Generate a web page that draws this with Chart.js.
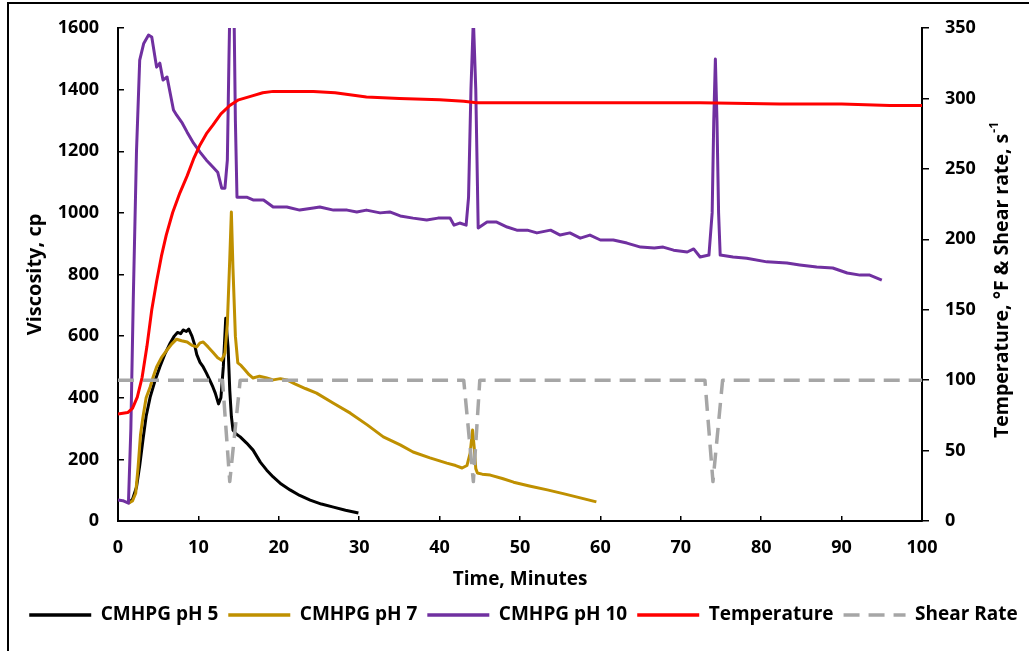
<!DOCTYPE html>
<html>
<head>
<meta charset="utf-8">
<script src="https://cdn.jsdelivr.net/npm/chart.js@4.4.1/dist/chart.umd.min.js"></script>
<style>
  html, body { margin: 0; padding: 0; background: #fff; }
  #marco { position: absolute; left: 7px; top: 2px; width: 1030px; height: 700px; border-left: 2px solid #000; border-top: 2px solid #000; }
  #graficoViscosidad { position: absolute; left: 0; top: 0; }
</style>
</head>
<body>
<div id="marco"></div>
<canvas id="graficoViscosidad" width="1029" height="651"></canvas>
<script>
// tiempos (min) y viscosidad (cp)
const tPh5 = [1.3, 1.8, 2.3, 2.7, 3.1, 3.5, 4.0, 4.6, 5.2, 5.8, 6.5, 7.0, 7.4, 7.8, 8.1, 8.5, 8.8, 9.2, 9.5, 9.8,
  10.2, 10.6, 11.0, 11.4, 11.8, 12.1, 12.5, 12.8, 13.1, 13.4, 13.7, 13.9, 14.1, 14.3, 14.7, 15.2, 16.0, 16.8, 17.7,
  18.5, 19.3, 20.3, 21.4, 22.6, 23.9, 25.3, 26.8, 28.3, 29.9];
const viscPh5 = [58, 70, 110, 180, 263, 340, 402, 455, 500, 540, 578, 600, 612, 608, 620, 615, 623, 600, 575, 540,
  515, 500, 480, 458, 435, 415, 380, 400, 500, 658, 560, 425, 340, 295, 282, 273, 253, 230, 191,
  165, 143, 120, 101, 83, 68, 55, 45, 35, 26];

const tPh7 = [1.3, 1.8, 2.2, 2.5, 2.8, 3.1, 3.5, 4.0, 4.4, 4.8, 5.4, 6.1, 6.7, 7.3, 7.9, 8.6, 9.2, 9.8, 10.2, 10.6,
  11.2, 11.8, 12.4, 12.9, 13.3, 13.6, 13.9, 14.1, 14.3, 14.6, 14.9, 15.3, 15.8, 16.3, 16.8, 17.6, 18.5, 19.3, 20.2,
  21.0, 22.0, 23.3, 24.7, 26.8, 28.9, 31.0, 33.0, 35.1, 36.7, 38.8, 40.9, 42.0, 42.8, 43.4, 43.8, 44.1, 44.3, 44.5,
  44.7, 45.3, 46.3, 47.8, 49.2, 51.3, 53.4, 55.5, 57.5, 59.5];
const viscPh7 = [58, 65, 90, 175, 280, 337, 400, 435, 470, 500, 530, 555, 575, 590, 585, 581, 570, 565, 578, 581,
  565, 548, 530, 522, 545, 640, 850, 1003, 820, 600, 513, 505, 490, 475, 464, 470, 464, 458, 462,
  458, 445, 430, 415, 382, 350, 312, 273, 247, 224, 205, 188, 180, 172, 180, 220, 295, 240, 170,
  156, 152, 149, 138, 126, 113, 101, 88, 75, 62];

const tPh10 = [0, 0.6, 1.3, 1.6, 1.9, 2.3, 2.7, 3.2, 3.8, 4.2,
  4.8, 5.2, 5.6, 6.1, 6.9, 7.3, 8.0, 8.6, 9.4, 10.2,
  11.0, 11.8, 12.4, 12.9, 13.3, 13.6, 13.8, 13.95, 14.4, 14.6,
  14.8, 16.0, 16.8, 18.1, 19.3, 21.0, 22.6, 24.3, 25.1, 26.8,
  28.5, 29.7, 30.9, 32.6, 33.8, 35.1, 36.7, 38.4, 39.8, 41.3,
  41.8, 42.5, 43.3, 43.6, 43.9, 44.2, 44.5, 44.7, 44.8, 45.9,
  47.1, 48.4, 49.6, 50.9, 52.1, 53.8, 55.0, 56.2, 57.5, 58.7,
  60.0, 61.6, 63.3, 65.0, 66.7, 67.8, 69.1, 70.8, 71.6, 72.4,
  73.5, 73.9, 74.1, 74.3, 74.5, 74.7, 74.9, 76.5, 78.2, 80.7,
  83.2, 84.8, 86.9, 88.9, 90.7, 92.3, 93.5, 95.0];
const viscPh10 = [68, 66, 58, 300, 720, 1200, 1496, 1550, 1577, 1571,
  1473, 1486, 1431, 1441, 1334, 1317, 1291, 1262, 1226, 1197,
  1171, 1149, 1132, 1080, 1080, 1171, 1500, 1720, 1720, 1300,
  1051, 1051, 1042, 1042, 1019, 1019, 1009, 1016, 1019, 1009,
  1009, 1003, 1009, 1000, 1003, 990, 983, 977, 983, 983,
  960, 967, 960, 1050, 1400, 1630, 1400, 1100, 951, 970,
  970, 954, 944, 944, 935, 944, 928, 935, 918, 928,
  912, 912, 902, 889, 886, 889, 879, 873, 883, 857,
  863, 1000, 1300, 1499, 1300, 1000, 863, 857, 853, 841,
  837, 831, 824, 821, 805, 798, 798, 782];

// eje secundario: temperatura (F) y velocidad de corte (1/s)
const tTemp = [0, 1.2, 1.8, 2.4, 3.0, 3.6, 4.2, 4.8, 5.4, 6.0, 6.8, 7.7, 8.6, 9.4, 10.2, 11.0, 11.8, 12.8, 13.9,
  15.0, 16.8, 18.0, 19.3, 21.0, 24.3, 27.0, 30.9, 35.0, 40.0, 43.0, 44.6, 50.0, 60.0, 72.4, 82.3, 90.0, 96.0, 100];
const temperatura = [76, 77, 80, 88, 102, 124, 150, 170, 188, 203, 219, 233, 245, 257, 267, 275, 281, 289, 295,
  299, 302, 304, 305, 305, 305, 304, 301, 300, 299, 298, 297, 297, 297, 297, 296, 296, 295, 295];

const tShear = [0, 13.0, 13.9, 15.2, 43.0, 44.2, 45.0, 73.0, 74.0, 75.2, 100];
const shearRate = [100, 100, 28, 100, 100, 28, 100, 100, 28, 100, 100];

const aPuntos = (t, v) => t.map((x, i) => ({ x: x, y: v[i] }));

Chart.defaults.font.family = "'Open Sans', sans-serif";
Chart.defaults.font.weight = 'bold';
Chart.defaults.color = '#000';

const base = { pointRadius: 0, tension: 0, fill: false, borderWidth: 3, borderJoinStyle: 'round' };

const chartData = {
  datasets: [
    Object.assign({ label: 'CMHPG pH 5', data: aPuntos(tPh5, viscPh5), borderColor: '#000000', backgroundColor: '#000000', yAxisID: 'y', order: 5 }, base),
    Object.assign({ label: 'CMHPG pH 7', data: aPuntos(tPh7, viscPh7), borderColor: '#BF9000', backgroundColor: '#BF9000', yAxisID: 'y', order: 4 }, base),
    Object.assign({ label: 'CMHPG pH 10', data: aPuntos(tPh10, viscPh10), borderColor: '#7030A0', backgroundColor: '#7030A0', yAxisID: 'y', order: 3 }, base),
    Object.assign({ label: 'Temperature', data: aPuntos(tTemp, temperatura), borderColor: '#FF0000', backgroundColor: '#FF0000', yAxisID: 'y1', order: 2 }, base),
    Object.assign({ label: 'Shear Rate', data: aPuntos(tShear, shearRate), borderColor: '#A6A6A6', backgroundColor: '#A6A6A6', yAxisID: 'y1', order: 1 }, base, { borderDash: [16, 9], borderWidth: 3.5 })
  ]
};

// titulo del eje derecho, leido de abajo hacia arriba como en Excel
const tituloDerecho = {
  id: 'tituloDerecho',
  afterDraw(chart) {
    const { ctx, chartArea } = chart;
    const texto = 'Temperature, \u00B0F & Shear rate, s';
    const sup = '-1';
    ctx.save();
    ctx.translate(chart.scales.y1.right - 27, (chartArea.top + chartArea.bottom) / 2 + 6);
    ctx.rotate(-Math.PI / 2);
    ctx.fillStyle = '#000';
    ctx.textBaseline = 'middle';
    ctx.textAlign = 'left';
    ctx.font = "bold 19.5px 'Open Sans'";
    const w1 = ctx.measureText(texto).width;
    ctx.font = "bold 12px 'Open Sans'";
    const w2 = ctx.measureText(sup).width;
    const x0 = -(w1 + w2) / 2;
    ctx.font = "bold 19.5px 'Open Sans'";
    ctx.fillText(texto, x0, 0);
    ctx.font = "bold 12px 'Open Sans'";
    ctx.fillText(sup, x0 + w1 + 1, -7);
    ctx.restore();
  }
};

// sin relleno extra de las etiquetas, para fijar el area del grafico
const sinRelleno = s => { s.paddingTop = 0; s.paddingBottom = 0; s.paddingLeft = 0; s.paddingRight = 0; };

const options = {
  responsive: false,
  animation: false,
  layout: { padding: { left: 18, right: 0, top: 28, bottom: 16.5 } },
  scales: {
    x: {
      type: 'linear', min: 0, max: 100,
      ticks: { stepSize: 10, padding: 21, font: { size: 18, weight: 'bold' }, color: '#000', maxRotation: 0, callback: v => String(v) },
      grid: { drawOnChartArea: false, drawTicks: true, tickLength: -5, color: '#000', lineWidth: 1.5 },
      border: { display: true, color: '#000', width: 2 },
      title: { display: true, text: 'Time, Minutes', font: { size: 19, weight: 'bold' }, color: '#000', padding: { top: 0, bottom: 5 } },
      afterFit: s => { s.height = 74.5; sinRelleno(s); }
    },
    y: {
      position: 'left', min: 0, max: 1600,
      ticks: { stepSize: 200, padding: 25, font: { size: 18, weight: 'bold' }, color: '#000', callback: v => String(v) },
      grid: { drawOnChartArea: false, drawTicks: true, tickLength: -6, color: '#000', lineWidth: 1.5 },
      border: { display: true, color: '#000', width: 2 },
      title: { display: true, text: 'Viscosity, cp', font: { size: 20, weight: 'bold' }, color: '#000', padding: { top: 5, bottom: 0 } },
      afterFit: s => { s.width = 100; sinRelleno(s); }
    },
    y1: {
      position: 'right', min: 0, max: 350,
      ticks: { stepSize: 50, padding: 16, font: { size: 18, weight: 'bold' }, color: '#000', callback: v => String(v) },
      grid: { drawOnChartArea: false, drawTicks: true, tickLength: 7, color: '#000', lineWidth: 1.5 },
      border: { display: true, color: '#000', width: 2 },
      title: { display: false },
      afterFit: s => { s.width = 107; sinRelleno(s); }
    }
  },
  plugins: {
    tooltip: { enabled: false },
    legend: {
      position: 'bottom',
      labels: {
        usePointStyle: true,
        pointStyleWidth: 62,
        padding: 10,
        color: '#000',
        font: { size: 19, weight: 'bold' },
        generateLabels: chart => chart.data.datasets.map((ds, i) => ({
          text: ds.label,
          strokeStyle: ds.borderColor,
          fillStyle: ds.borderColor,
          lineWidth: 3.5,
          lineDash: ds.borderDash || [],
          pointStyle: 'line',
          datasetIndex: i,
          hidden: false
        }))
      }
    }
  }
};

new Chart(document.getElementById('graficoViscosidad'), {
  type: 'line',
  data: chartData,
  options: options,
  plugins: [tituloDerecho]
});
</script>
</body>
</html>
